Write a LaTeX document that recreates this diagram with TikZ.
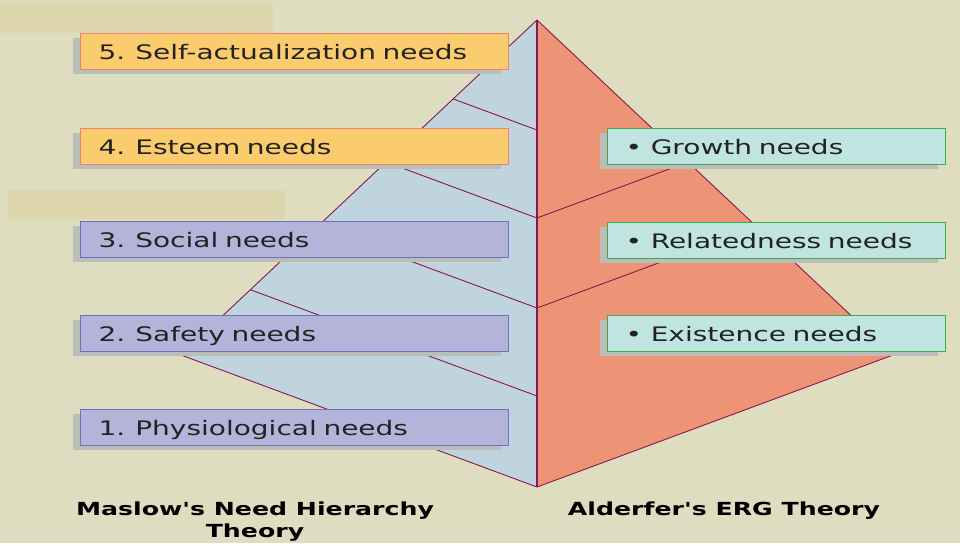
\documentclass[tikz,border=0pt]{standalone}
\usepackage{fontspec}
\usetikzlibrary{shadows, math}
\newfontfamily\boxfont[FakeStretch=1.4]{DejaVu Sans}
\definecolor{bgbeige}{RGB}{223,221,192}
\definecolor{patchbeige}{RGB}{222,214,172}
\definecolor{maslowblue}{RGB}{192,212,224}
\definecolor{ergsalmon}{RGB}{238,148,118}
\definecolor{edgeplum}{RGB}{139,22,78}
\definecolor{upperyellow}{RGB}{250,204,110}
\definecolor{upperedge}{RGB}{240,128,110}
\definecolor{lowerpurple}{RGB}{180,180,218}
\definecolor{loweredge}{RGB}{112,112,184}
\definecolor{ergmint}{RGB}{192,228,224}
\definecolor{ergedge}{RGB}{64,168,80}
\definecolor{shadowgrey}{RGB}{186,190,184}
\definecolor{inkgrey}{RGB}{34,34,34}
\tikzset{
  needbox/.style={draw, line width=1.2pt, anchor=north west, minimum height=36pt,
    inner xsep=18pt, inner ysep=0pt, text width=392pt, align=left, text=inkgrey,
    text height=20pt, text depth=4pt,
    font=\boxfont\fontsize{20}{24}\selectfont,
    drop shadow={shadow xshift=-8pt, shadow yshift=-4pt, fill=shadowgrey, opacity=1}},
  upperbox/.style={needbox, fill=upperyellow, draw=upperedge},
  lowerbox/.style={needbox, fill=lowerpurple, draw=loweredge},
  ergbox/.style={needbox, fill=ergmint, draw=ergedge, text width=302pt},
  level/.style={edgeplum, line width=0.9pt},
  theory/.style={font=\boxfont\bfseries\fontsize{18}{22}\selectfont, align=center}
}

\begin{document}
\begin{tikzpicture}[x=1pt, y=-1pt]
\tikzmath{
\apexx=537; \apexy=20; \basey=487;
\tipx=181; \tipy=355;
\upslope=(\tipy-\apexy)/(\apexx-\tipx);
\lowslope=(\basey-\tipy)/(\apexx-\tipx);
\run=\upslope+\lowslope;
}
%background
\fill[bgbeige] (0,0) rectangle (960,543);
\fill[patchbeige] (0,3) rectangle (273,33);
\fill[patchbeige] (8,190) rectangle (285,219);

%pyramid
\coordinate (apex) at (\apexx,\apexy);
\coordinate (bottom) at (\apexx,\basey);
\coordinate (westtip) at (\tipx,\tipy);
\coordinate (easttip) at (2*\apexx-\tipx,\tipy);
\fill[maslowblue] (apex) -- (westtip) -- (bottom) -- cycle;
\fill[ergsalmon] (apex) -- (easttip) -- (bottom) -- cycle;
\draw[level] (westtip) -- (apex) -- (easttip) -- (bottom) -- cycle;

%levels
\foreach \c in {130,218,308,396}
  \draw[level] (\apexx,\c) -- ({\apexx-(\c-\apexy)/\run},{\c-\lowslope*(\c-\apexy)/\run});
\foreach \c in {218,308}
  \draw[level] (\apexx,\c) -- ({\apexx+(\c-\apexy)/\run},{\c-\lowslope*(\c-\apexy)/\run});
\draw[edgeplum, line width=1.6pt] (apex) -- (bottom);

%Maslow
\node[upperbox] (selfact) at (80,33) {5. Self-actualization needs};
\node[upperbox] (esteem) at (80,128) {4. Esteem needs};
\node[lowerbox] (social) at (80,221) {3. Social needs};
\node[lowerbox] (safety) at (80,315) {2. Safety needs};
\node[lowerbox] (physio) at (80,409) {1. Physiological needs};

%ERG
\node[ergbox] (growth) at (607,128) {\textbullet\ \hspace{2pt}Growth needs};
\node[ergbox] (relate) at (607,222) {\textbullet\ \hspace{2pt}Relatedness needs};
\node[ergbox] (exist) at (607,315) {\textbullet\ \hspace{2pt}Existence needs};

%titles
\node[theory] (maslowtitle) at (255,522) {Maslow's Need Hierarchy\\Theory};
\node[theory] (ergtitle) at (724,511) {Alderfer's ERG Theory};
\end{tikzpicture}
\end{document}
